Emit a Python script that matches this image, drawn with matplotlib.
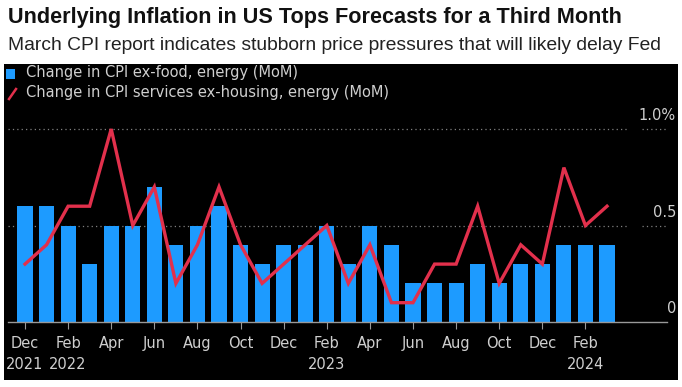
import numpy as np
import matplotlib
matplotlib.use("Agg")
import matplotlib.pyplot as plt
from matplotlib.patches import Rectangle
from matplotlib.lines import Line2D
from matplotlib.transforms import blended_transform_factory

# monthly data, Dec 2021 .. Mar 2024
core_mom = [0.6, 0.6, 0.5, 0.3, 0.5, 0.5, 0.7, 0.4, 0.5, 0.6, 0.4, 0.3, 0.4, 0.4,
            0.5, 0.3, 0.5, 0.4, 0.2, 0.2, 0.2, 0.3, 0.2, 0.3, 0.3, 0.4, 0.4, 0.4]
supercore_mom = [0.3, 0.4, 0.6, 0.6, 1.0, 0.5, 0.7, 0.2, 0.4, 0.7, 0.4, 0.2, 0.3, 0.4,
                 0.5, 0.2, 0.4, 0.1, 0.1, 0.3, 0.3, 0.6, 0.2, 0.4, 0.3, 0.8, 0.5, 0.6]
tick_labels = ["Dec\n2021", "Feb\n2022", "Apr", "Jun", "Aug", "Oct", "Dec",
               "Feb\n2023", "Apr", "Jun", "Aug", "Oct", "Dec", "Feb\n2024"]
y_labels = ["0", "0.5", "1.0%"]
y_vals = [0, 0.5, 1.0]

BLUE = "#1d9bff"
RED = "#e2304c"
GREY = "#cfcfcf"
NARROW = ["Liberation Sans Narrow", "DejaVu Sans"]

W, H = 682, 387
fig = plt.figure(figsize=(W / 100, H / 100), dpi=100)
fig.patch.set_facecolor("white")

# black chart panel
fig.patches.append(Rectangle((4 / W, 1 - 380 / H), 674 / W, (380 - 64) / H,
                             transform=fig.transFigure, facecolor="black",
                             edgecolor="none", zorder=-1))

fig.text(8 / W, 1 - 18 / H, "Underlying Inflation in US Tops Forecasts for a Third Month",
         fontsize=15.6, fontweight="bold", va="center", ha="left",
         family="Liberation Sans", color="#111111")
fig.text(8 / W, 1 - 46 / H, "March CPI report indicates stubborn price pressures that will likely delay Fed",
         fontsize=13.9, va="center", ha="left", family="Liberation Sans", color="#222222")

# axes: baseline at y=322px, 1.0 at y=129px
top_px, base_px = 100, 322
ax = fig.add_axes([8 / W, 1 - base_px / H, (667 - 8) / W, (base_px - top_px) / H])
ax.set_facecolor("black")
ax.set_zorder(1)
ymax = (base_px - top_px) / (base_px - 129)
ax.set_ylim(0, ymax)
x = np.arange(len(core_mom))
step = (607 - 25) / 27
ax.set_xlim(-(25 - 8) / step, (667 - 25) / step)

ax.bar(x, core_mom, width=0.7, color=BLUE, zorder=2)
ax.plot(x, supercore_mom, color=RED, lw=2.4, zorder=3, solid_joinstyle="miter")

gap_lo, gap_hi = (627 - 8) / 659, (642 - 8) / 659
for v in [0.5, 1.0]:
    ax.axhline(v, xmax=gap_lo, color="#808080", lw=0.9, ls=(0, (1, 2.5)), zorder=1)
    ax.axhline(v, xmin=gap_hi, color="#808080", lw=0.9, ls=(0, (1, 2.5)), zorder=1)

for s in ["top", "left", "right"]:
    ax.spines[s].set_visible(False)
ax.spines["bottom"].set_color("#999999")
ax.spines["bottom"].set_linewidth(1.0)
ax.set_yticks([])
ax.set_xticks(x[::2])
ax.set_xticklabels(tick_labels, color=GREY, fontsize=10.5, family=NARROW,
                   linespacing=1.5, ha="center")
ax.tick_params(axis="x", length=5, width=0.8, color="#999999", pad=5)

tr = blended_transform_factory(fig.transFigure, ax.transData)
for v, lab in zip(y_vals, y_labels):
    ax.text(676 / W, v + 0.03, lab, transform=tr, ha="right", va="bottom",
            color=GREY, fontsize=10.5, family=NARROW)

# legend
fig.patches.append(Rectangle((6 / W, 1 - 79 / H), 9 / W, 10 / H, transform=fig.transFigure,
                             facecolor=BLUE, edgecolor="none", zorder=3))
fig.lines.append(Line2D([9 / W, 16 / W], [1 - 99 / H, 1 - 89 / H], transform=fig.transFigure,
                        color=RED, lw=1.8))
fig.text(26 / W, 1 - 73 / H, "Change in CPI ex-food, energy (MoM)", color=GREY,
         fontsize=10.5, family=NARROW, va="center", ha="left")
fig.text(26 / W, 1 - 93 / H, "Change in CPI services ex-housing, energy (MoM)", color=GREY,
         fontsize=10.5, family=NARROW, va="center", ha="left")

fig.savefig("out.png", dpi=100, facecolor=fig.get_facecolor())
